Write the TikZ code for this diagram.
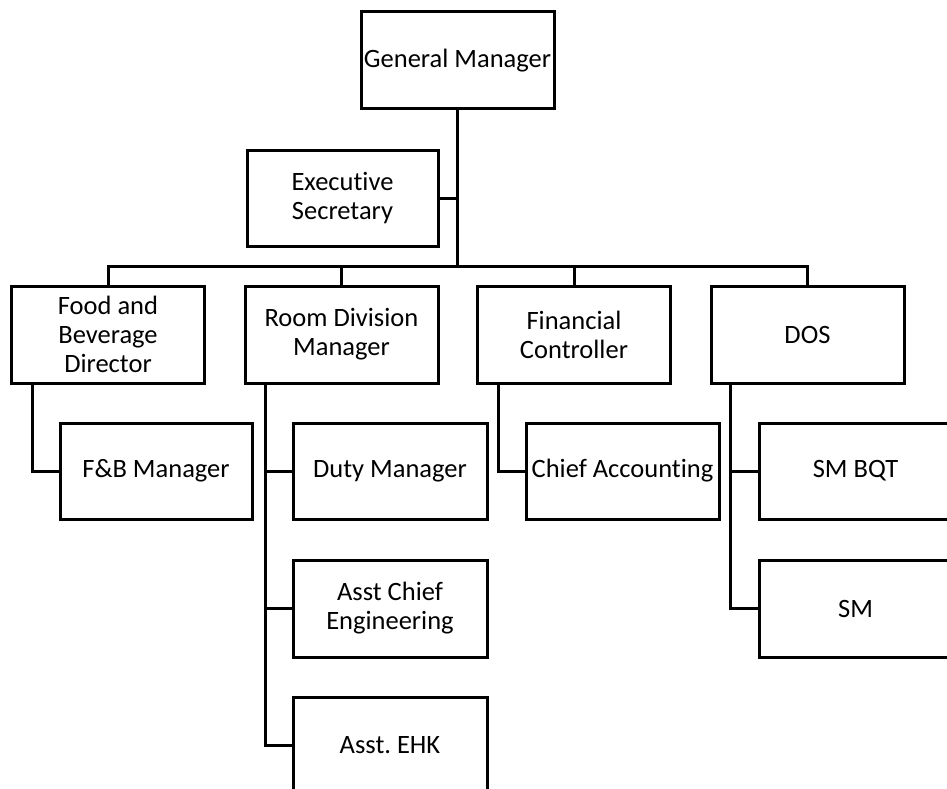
\documentclass[tikz,border=0pt]{standalone}
\usepackage{fontspec}
\setmainfont[Ligatures=CommonOff]{Carlito}
\frenchspacing
\begin{document}
\begin{tikzpicture}[x=1pt,y=-1pt,
  box/.style={draw=black,line width=3pt,fill=white,rectangle,minimum width=193pt,minimum height=97pt,inner sep=0pt,align=center,font=\fontsize{26.5}{29}\selectfont},
  link/.style={draw=black,line width=3pt}]
\useasboundingbox (0,0) rectangle (947,789);
\clip (0,0) rectangle (947,789);
\node[box] (gm) at (457.5,60.5) {General Manager};
\node[box,minimum width=191pt,minimum height=96pt] (es) at (342.5,198) {Executive\\Secretary};
\node[box] (fbd) at (108,334.5) {Food and\\Beverage\\Director};
\node[box] (rdm) at (341.5,334.5) {Room Division\\Manager};
\node[box] (fc) at (574,334.5) {Financial\\Controller};
\node[box] (dos) at (807.5,334.5) {DOS};
\node[box,minimum width=192pt,minimum height=96pt] (fbm) at (156,471) {F\&B Manager};
\node[box,minimum width=194pt,minimum height=96pt] (dm) at (390,471) {Duty Manager};
\node[box,minimum width=194pt] (ace) at (390,608.5) {Asst Chief\\Engineering};
\node[box,minimum width=194pt] (ehk) at (390,745.5) {Asst.\ EHK};
\node[box,minimum height=96pt] (ca) at (622.5,471) {Chief Accounting};
\node[box,minimum height=96pt] (smbqt) at (855.5,471) {SM BQT};
\node[box] (sm) at (855.5,608.5) {SM};
\coordinate (bus) at (457.5,266);
\draw[link] (gm.south) -- (bus);
\draw[link] (es.east) -- (es.east -| gm.south);
\draw[link] (bus) -| (fbd.north);
\draw[link] (bus) -| (rdm.north);
\draw[link] (bus) -| (fc.north);
\draw[link] (bus) -| (dos.north);
\draw[link] ([xshift=-76pt]fbd.south) |- (fbm.west);
\draw[link] ([xshift=-76.5pt]rdm.south) |- (dm.west);
\draw[link] ([xshift=-76.5pt]rdm.south) |- (ace.west);
\draw[link] ([xshift=-76.5pt]rdm.south) |- (ehk.west);
\draw[link] ([xshift=-76pt]fc.south) |- (ca.west);
\draw[link] ([xshift=-77.5pt]dos.south) |- (smbqt.west);
\draw[link] ([xshift=-77.5pt]dos.south) |- (sm.west);
\end{tikzpicture}
\end{document}
